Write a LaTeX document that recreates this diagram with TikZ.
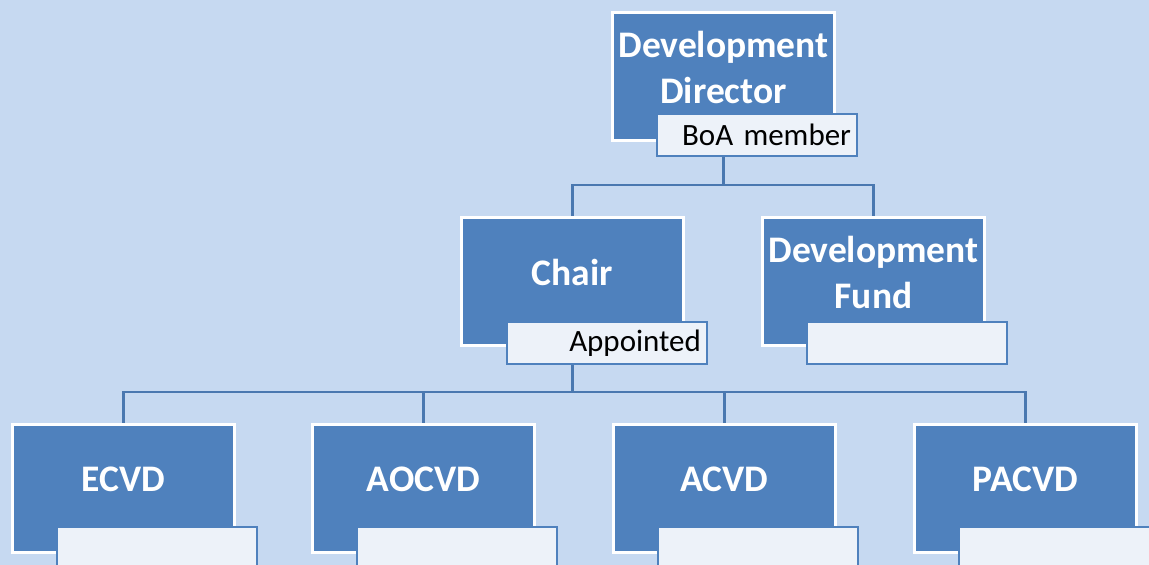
\documentclass[tikz,border=0pt]{standalone}
\usepackage{fontspec}
\setmainfont{Carlito}
\definecolor{bgc}{HTML}{C6D9F1}
\definecolor{boxc}{HTML}{4F81BD}
\definecolor{linec}{HTML}{4A78B0}
\definecolor{labc}{HTML}{EDF2F9}
\begin{document}
\begin{tikzpicture}[x=1pt,y=-1pt,
  orgbox/.style={draw=white, line width=3pt, fill=boxc, minimum width=222pt, minimum height=128pt, anchor=north west, inner sep=0pt},
  labbox/.style={draw=boxc, line width=2pt, fill=labc, minimum width=200pt, minimum height=42pt, anchor=north west, inner sep=0pt,
     text width=188pt, align=right, font=\fontsize{31}{36}\selectfont},
  boxtext/.style={text=white, font=\bfseries\fontsize{37.5}{46}\selectfont, align=center, inner sep=0pt},
  conn/.style={draw=linec, line width=2.5pt}
]
\fill[bgc] (0,0) rectangle (1149,565);
\useasboundingbox (0,0) rectangle (1149,565);

% top
\node[orgbox] (dd) at (611,11) {};
\node[labbox] (ddl) at (656,113) {BoA member};
\node[boxtext] (ddt) at ([yshift=9pt]dd.center) {Development\\Director};

% second level
\node[orgbox] (chair) at (460,216) {};
\node[labbox] (chairl) at (506,321) {Appointed};
\node[boxtext] (chairt) at ([yshift=9pt]chair.center) {Chair};

\node[orgbox] (fund) at (761,216) {};
\node[labbox] (fundl) at (806,321) {};
\node[boxtext] (fundt) at ([yshift=9pt]fund.center) {Development\\Fund};

% third level
\node[orgbox] (ecvd) at (11,423) {};
\node[labbox] (ecvdl) at (56,526) {};
\node[boxtext] (ecvdt) at ([yshift=9pt]ecvd.center) {ECVD};

\node[orgbox] (aocvd) at (311,423) {};
\node[labbox] (aocvdl) at (356,526) {};
\node[boxtext] (aocvdt) at ([yshift=9pt]aocvd.center) {AOCVD};

\node[orgbox] (acvd) at (612,423) {};
\node[labbox] (acvdl) at (657,526) {};
\node[boxtext] (acvdt) at ([yshift=9pt]acvd.center) {ACVD};

\node[orgbox] (pacvd) at (913,423) {};
\node[labbox] (pacvdl) at (958,526) {};
\node[boxtext] (pacvdt) at ([yshift=9pt]pacvd.center) {PACVD};

% connectors
\coordinate (j1) at (dd.south |- 0,185);
\draw[conn] (dd.south |- ddl.south) -- (j1);
\draw[conn] (j1) -| (chair.north);
\draw[conn] (j1) -| (fund.north);

\coordinate (j2) at (chair.south |- 0,392);
\draw[conn] (chair.south |- chairl.south) -- (j2);
\draw[conn] (j2) -| (ecvd.north);
\draw[conn] (j2) -| (aocvd.north);
\draw[conn] (j2) -| (acvd.north);
\draw[conn] (j2) -| (pacvd.north);
\end{tikzpicture}
\end{document}
